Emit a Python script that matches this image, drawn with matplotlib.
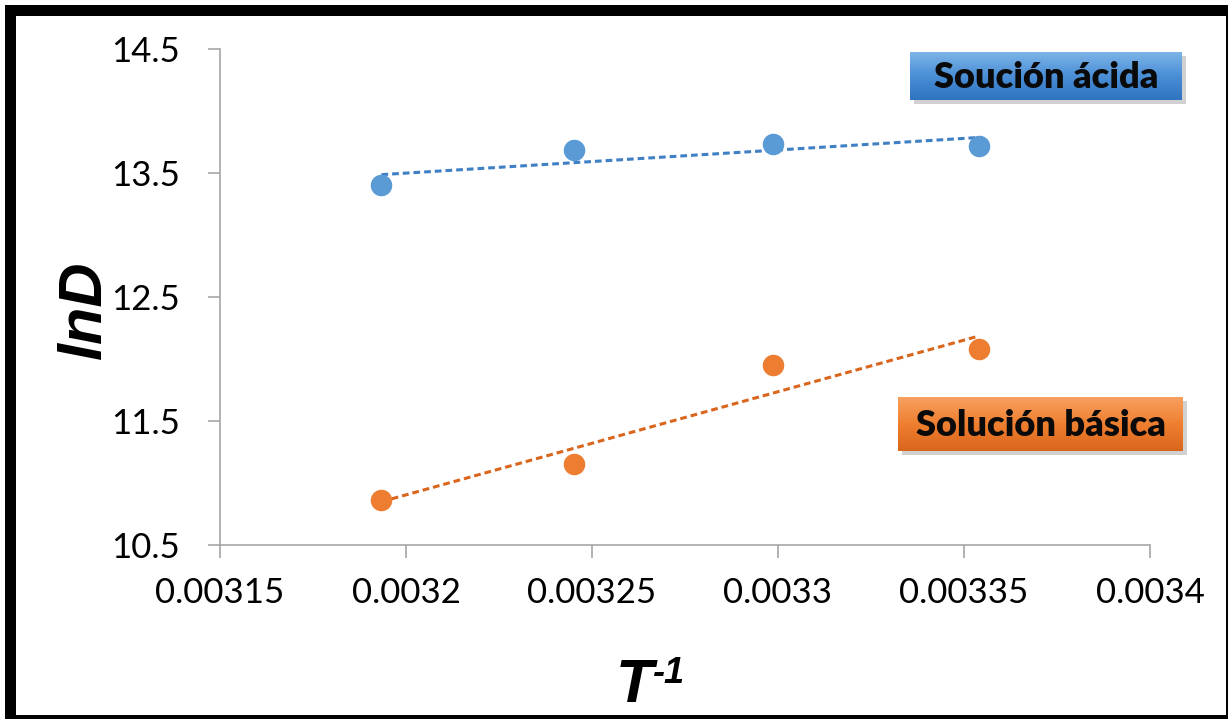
import numpy as np
import matplotlib
matplotlib.use('Agg')
import matplotlib.pyplot as plt
from matplotlib.patches import Rectangle
from matplotlib.colors import LinearSegmentedColormap

# Data (x = 1/T)
inv_T = [0.0031934, 0.0032451, 0.0032987, 0.0033540]
lnD_acida = [13.40, 13.685, 13.735, 13.72]
lnD_basica = [10.86, 11.15, 11.95, 12.08]

x_ticks = [0.00315, 0.0032, 0.00325, 0.0033, 0.00335, 0.0034]
x_tick_labels = ['0.00315', '0.0032', '0.00325', '0.0033', '0.00335', '0.0034']
y_ticks = [10.5, 11.5, 12.5, 13.5, 14.5]
y_tick_labels = ['10.5', '11.5', '12.5', '13.5', '14.5']

BLUE = '#5B9BD5'
ORANGE = '#ED7D31'
W, H = 1232, 721

fig = plt.figure(figsize=(W / 100, H / 100), dpi=100)
fig.patch.set_facecolor('white')

ax = fig.add_axes([220 / W, 1 - 545 / H, 930 / W, 496 / H])

for vals, col, dark in [(lnD_acida, BLUE, '#3F7FC4'), (lnD_basica, ORANGE, '#D9661C')]:
    ax.scatter(inv_T, vals, s=210, color=col, zorder=3, edgecolors=col)
    m, b = np.polyfit(inv_T, vals, 1)
    xs = np.array([inv_T[0], inv_T[-1]])
    ax.plot(xs, m * xs + b, linestyle=(0, (2.2, 1.3)), color=dark, linewidth=2.2, zorder=2)

ax.set_xlim(0.00315, 0.0034)
ax.set_ylim(10.5, 14.5)
ax.set_xticks(x_ticks)
ax.set_xticklabels(x_tick_labels)
ax.set_yticks(y_ticks)
ax.set_yticklabels(y_tick_labels)
for sp in ['top', 'right']:
    ax.spines[sp].set_visible(False)
for sp in ['left', 'bottom']:
    ax.spines[sp].set_color('#A6A6A6')
    ax.spines[sp].set_linewidth(1.2)
ax.tick_params(axis='both', colors='#A6A6A6', length=9, width=1.2, labelcolor='black',
               labelsize=25)
ax.tick_params(axis='x', pad=14)
ax.tick_params(axis='y', pad=20)
for lbl in ax.get_xticklabels() + ax.get_yticklabels():
    lbl.set_family('Lato')

fig.text(85 / W, 1 - 310 / H, 'lnD', rotation=90, fontsize=44, fontweight='bold',
         fontstyle='italic', family='Liberation Sans', ha='center', va='center')
fig.text(653 / W, 1 - 702 / H, 'T', fontsize=44, fontweight='bold',
         fontstyle='italic', family='Liberation Sans', ha='right', va='baseline')
fig.text(652 / W, 1 - 683 / H, '-1', fontsize=26, fontweight='bold',
         fontstyle='italic', family='Liberation Sans', ha='left', va='baseline')


def label_box(x0, y0, x1, y1, colors, text):
    # drop shadow
    fig.add_artist(Rectangle((x0 / W + 0.003, 1 - y1 / H - 0.006), (x1 - x0) / W, (y1 - y0) / H,
                             transform=fig.transFigure, facecolor='#9A9A9A', alpha=0.45,
                             edgecolor='none', zorder=4))
    bax = fig.add_axes([x0 / W, 1 - y1 / H, (x1 - x0) / W, (y1 - y0) / H], zorder=5)
    cmap = LinearSegmentedColormap.from_list('g', colors)
    grad = np.linspace(0, 1, 100).reshape(-1, 1)
    bax.imshow(grad, aspect='auto', cmap=cmap, extent=[0, 1, 0, 1], origin='upper')
    bax.set_axis_off()
    bax.text(0.5, 0.47, text, ha='center', va='center', fontsize=26, fontweight='heavy',
             family='Lato', color='#0A0A0A', transform=bax.transAxes)


label_box(910, 52, 1182, 100, ['#7DB4E8', '#4A8ED6', '#2F74C0'], 'Soución ácida')
label_box(898, 397, 1183, 451, ['#F7A060', '#EF7F30', '#D9661C'], 'Solución básica')

# outer frame: thick left/top, thin right/bottom
frame = [
    (5, 5, 11, 711),     # left
    (5, 5, 1223, 11),    # top
    (1226, 5, 2, 713),   # right
    (5, 715, 1223, 4),   # bottom
]
for x, y, w, h in frame:
    fig.add_artist(Rectangle((x / W, 1 - (y + h) / H), w / W, h / H,
                             transform=fig.transFigure, facecolor='black',
                             edgecolor='none', zorder=6))

fig.savefig('out.png', dpi=100)
